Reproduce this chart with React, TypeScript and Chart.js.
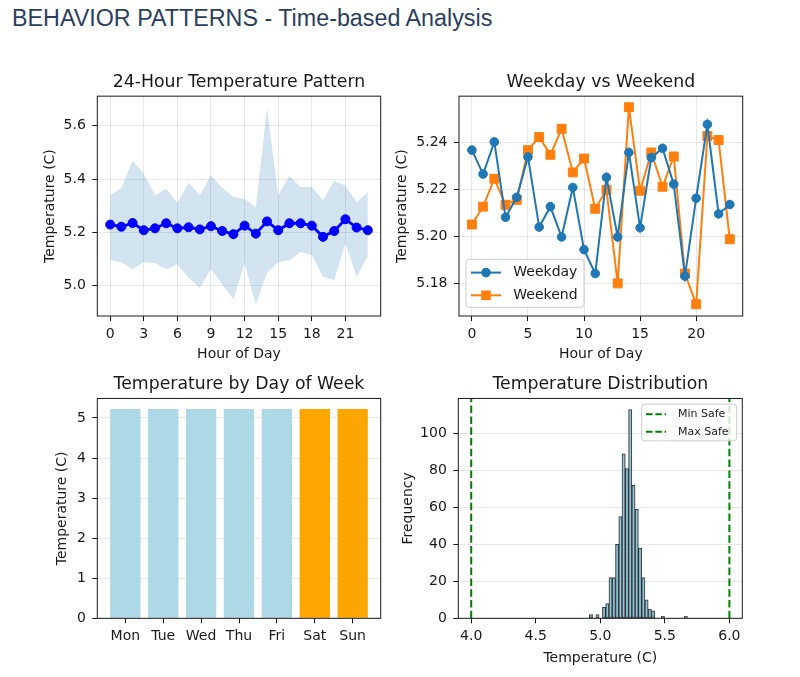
import { useEffect, useRef } from 'react';
import { Chart, registerables } from 'chart.js';

Chart.register(...registerables);
Chart.defaults.font.family = "'DejaVu Sans', sans-serif";
Chart.defaults.color = '#1a1a1a';

const INK = '#1a1a1a';
const GRID = 'rgba(176,176,176,0.3)';

// 24-hour pattern: mean with +/- std band
const hours = [0, 1, 2, 3, 4, 5, 6, 7, 8, 9, 10, 11, 12, 13, 14, 15, 16, 17, 18, 19, 20, 21, 22, 23];
const hourMean = [5.229, 5.221, 5.235, 5.208, 5.215, 5.234, 5.215, 5.219, 5.211, 5.223, 5.205, 5.193, 5.225, 5.195, 5.241, 5.208, 5.234, 5.234, 5.225, 5.183, 5.205, 5.249, 5.218, 5.208];
const hourUpper = [5.339, 5.366, 5.47, 5.42, 5.339, 5.364, 5.31, 5.386, 5.339, 5.414, 5.366, 5.333, 5.326, 5.294, 5.666, 5.339, 5.411, 5.37, 5.37, 5.32, 5.393, 5.376, 5.314, 5.351];
const hourLower = [5.095, 5.089, 5.061, 5.089, 5.085, 5.061, 5.08, 5.03, 4.991, 5.061, 5.005, 4.949, 5.083, 4.929, 5.048, 5.089, 5.095, 5.126, 5.114, 5.033, 5.02, 5.16, 5.033, 5.11];
const hourTicks = [0, 3, 6, 9, 12, 15, 18, 21];
const hourTempTicks = [5.0, 5.2, 5.4, 5.6];

// weekday vs weekend by hour
const weekdayTemps = [5.2368, 5.2266, 5.2403, 5.2082, 5.2167, 5.2339, 5.204, 5.2127, 5.1998, 5.2209, 5.1944, 5.1842, 5.2252, 5.1998, 5.2358, 5.2037, 5.2336, 5.2376, 5.2223, 5.1831, 5.2163, 5.2478, 5.2096, 5.2136];
const weekendTemps = [5.2051, 5.2127, 5.2246, 5.2135, 5.2156, 5.2368, 5.2424, 5.2348, 5.2459, 5.2273, 5.2332, 5.2118, 5.2199, 5.18, 5.2551, 5.2195, 5.2358, 5.2212, 5.2341, 5.1842, 5.1711, 5.2428, 5.2411, 5.1988];
const splitHourTicks = [0, 5, 10, 15, 20];
const splitTempTicks = [5.18, 5.2, 5.22, 5.24];

// day of week
const dayLabels = ['Mon', 'Tue', 'Wed', 'Thu', 'Fri', 'Sat', 'Sun'];
const dayTemps = [5.225, 5.224, 5.226, 5.224, 5.225, 5.222, 5.223];
const weekendDays = ['Sat', 'Sun'];
const dayTempTicks = [0, 1, 2, 3, 4, 5];

// distribution
const histBinStart = 4.915;
const histBinWidth = 0.02533;
const histCounts = [2, 0, 2, 0, 6, 8, 22, 22, 40, 55, 89, 81, 113, 72, 59, 38, 22, 10, 5, 4, 0, 0, 1, 0, 0, 0, 0, 0, 0, 1];
const minSafe = 4.0;
const maxSafe = 6.0;
const histTempTicks = [4.0, 4.5, 5.0, 5.5, 6.0];
const histFreqTicks = [0, 20, 40, 60, 80, 100];

type AxisSpec = {
  min: number;
  max: number;
  ticks: number[];
  fmt: (v: number) => string;
  size: number;
  grid: boolean;
  title?: string;
  titlePad?: number;
};

function axis(pos: 'x' | 'y', s: AxisSpec) {
  const horiz = pos === 'x';
  return {
    type: 'linear',
    position: horiz ? 'bottom' : 'left',
    min: s.min,
    max: s.max,
    offset: false,
    afterBuildTicks: (sc: any) => {
      sc.ticks = s.ticks.map((value) => ({ value }));
    },
    afterFit: (sc: any) => {
      if (horiz) sc.height = s.size;
      else sc.width = s.size;
    },
    ticks: {
      callback: (v: any) => s.fmt(Number(v)),
      font: { size: 14 },
      color: INK,
      padding: horiz ? 4.5 : 6.5,
      autoSkip: false,
      maxRotation: 0,
    },
    grid: {
      display: true,
      offset: false,
      color: s.grid ? GRID : 'rgba(0,0,0,0)',
      lineWidth: 1,
      drawTicks: true,
      tickLength: 5,
      tickColor: INK,
      tickWidth: 1,
    },
    border: { display: false },
    title: s.title
      ? {
          display: true,
          text: s.title,
          font: { size: 14 },
          color: INK,
          padding: horiz ? { top: 0, bottom: s.titlePad } : { top: s.titlePad, bottom: 0 },
        }
      : { display: false },
  };
}

function baseOptions(title: string, pad: { top: number; bottom: number }, padRight: number, scales: any) {
  return {
    responsive: true,
    maintainAspectRatio: false,
    animation: false,
    events: [],
    layout: { padding: { left: 0, top: 0, bottom: 0, right: padRight } },
    plugins: {
      legend: { display: false },
      tooltip: { enabled: false },
      title: {
        display: true,
        fullSize: false,
        text: title,
        font: { size: 17.3, weight: 'normal' },
        color: INK,
        padding: pad,
      },
    },
    scales,
  };
}

// axes box drawn on all four sides like matplotlib spines
const framePlugin = {
  id: 'frame',
  afterDatasetsDraw(chart: Chart) {
    const { ctx, chartArea: a } = chart;
    ctx.save();
    ctx.strokeStyle = INK;
    ctx.lineWidth = 1;
    ctx.strokeRect(a.left, a.top, a.right - a.left, a.bottom - a.top);
    ctx.restore();
  },
};

type LegendItem = { label: string; color: string; width: number; marker?: 'circle' | 'square'; dash?: number[] };
type LegendBox = {
  corner: 'lowerLeft' | 'upperRight';
  dx: number;
  dy: number;
  w: number;
  h: number;
  rows: number[];
  line: [number, number];
  text: number;
  fontSize: number;
};

function legendPlugin(items: LegendItem[], L: LegendBox) {
  return {
    id: 'mplLegend',
    afterDraw(chart: Chart) {
      const { ctx, chartArea: a } = chart;
      const x0 = L.corner === 'lowerLeft' ? a.left + L.dx : a.right - L.dx - L.w;
      const y0 = L.corner === 'lowerLeft' ? a.bottom - L.dy - L.h : a.top + L.dy;
      ctx.save();
      ctx.beginPath();
      if ((ctx as any).roundRect) (ctx as any).roundRect(x0, y0, L.w, L.h, 3);
      else ctx.rect(x0, y0, L.w, L.h);
      ctx.fillStyle = 'rgba(255,255,255,0.8)';
      ctx.fill();
      ctx.strokeStyle = '#cccccc';
      ctx.lineWidth = 1;
      ctx.stroke();
      items.forEach((it, i) => {
        const y = y0 + L.rows[i];
        ctx.beginPath();
        ctx.setLineDash(it.dash ?? []);
        ctx.strokeStyle = it.color;
        ctx.lineWidth = it.width;
        ctx.moveTo(x0 + L.line[0], y);
        ctx.lineTo(x0 + L.line[1], y);
        ctx.stroke();
        ctx.setLineDash([]);
        const mx = x0 + (L.line[0] + L.line[1]) / 2;
        ctx.fillStyle = it.color;
        if (it.marker === 'circle') {
          ctx.beginPath();
          ctx.arc(mx, y, 4.8, 0, Math.PI * 2);
          ctx.fill();
        } else if (it.marker === 'square') {
          ctx.fillRect(mx - 4.8, y - 4.8, 9.6, 9.6);
        }
        ctx.fillStyle = INK;
        ctx.font = `${L.fontSize}px 'DejaVu Sans', sans-serif`;
        ctx.textBaseline = 'middle';
        ctx.textAlign = 'left';
        ctx.fillText(it.label, x0 + L.text, y);
      });
      ctx.restore();
    },
  };
}

const TOP_TITLE = { top: 14.6, bottom: 2.8 };
const BOTTOM_TITLE = { top: 9.6, bottom: 3.1 };

function hourlyConfig(): any {
  return {
    type: 'line',
    data: {
      datasets: [
        {
          data: hours.map((h, i) => ({ x: h, y: hourMean[i] })),
          borderColor: '#0000ff',
          backgroundColor: '#0000ff',
          borderWidth: 2.8,
          pointRadius: 4.5,
          pointBorderWidth: 1,
          pointBorderColor: '#0000ff',
          pointBackgroundColor: '#0000ff',
          tension: 0,
          fill: false,
        },
        {
          data: hours.map((h, i) => ({ x: h, y: hourUpper[i] })),
          borderWidth: 0,
          borderColor: 'rgba(0,0,0,0)',
          pointRadius: 0,
          backgroundColor: 'rgba(31,119,180,0.2)',
          fill: '+1',
          tension: 0,
        },
        {
          data: hours.map((h, i) => ({ x: h, y: hourLower[i] })),
          borderWidth: 0,
          borderColor: 'rgba(0,0,0,0)',
          pointRadius: 0,
          fill: false,
          tension: 0,
        },
      ],
    },
    options: baseOptions('24-Hour Temperature Pattern', TOP_TITLE, 9.3, {
      x: axis('x', { min: -1.15, max: 24.15, ticks: hourTicks, fmt: (v) => String(v), size: 49, grid: true, title: 'Hour of Day', titlePad: 2.6 }),
      y: axis('y', { min: 4.886, max: 5.711, ticks: hourTempTicks, fmt: (v) => v.toFixed(1), size: 77.3, grid: true, title: 'Temperature (C)', titlePad: 21.6 }),
    }),
    plugins: [framePlugin],
  };
}

function splitConfig(): any {
  return {
    type: 'line',
    data: {
      datasets: [
        {
          label: 'Weekday',
          data: hours.map((h, i) => ({ x: h, y: weekdayTemps[i] })),
          borderColor: '#1f77b4',
          backgroundColor: '#1f77b4',
          borderWidth: 2,
          pointStyle: 'circle',
          pointRadius: 4.3,
          pointBorderWidth: 1,
          tension: 0,
        },
        {
          label: 'Weekend',
          data: hours.map((h, i) => ({ x: h, y: weekendTemps[i] })),
          borderColor: '#ff7f0e',
          backgroundColor: '#ff7f0e',
          borderWidth: 2,
          pointStyle: 'rect',
          pointRadius: 6.3,
          pointBorderWidth: 1,
          tension: 0,
        },
      ],
    },
    options: baseOptions('Weekday vs Weekend', TOP_TITLE, 9.3, {
      x: axis('x', { min: -1.15, max: 24.15, ticks: splitHourTicks, fmt: (v) => String(v), size: 49, grid: true, title: 'Hour of Day', titlePad: 2.6 }),
      y: axis('y', { min: 5.1661, max: 5.2598, ticks: splitTempTicks, fmt: (v) => v.toFixed(2), size: 77, grid: true, title: 'Temperature (C)', titlePad: 12.3 }),
    }),
    plugins: [
      framePlugin,
      legendPlugin(
        [
          { label: 'Weekday', color: '#1f77b4', width: 2, marker: 'circle' },
          { label: 'Weekend', color: '#ff7f0e', width: 2, marker: 'square' },
        ],
        { corner: 'lowerLeft', dx: 7, dy: 8.7, w: 118, h: 48, rows: [13.3, 36], line: [5, 35], text: 47.3, fontSize: 14 },
      ),
    ],
  };
}

function dayConfig(): any {
  return {
    type: 'bar',
    data: {
      datasets: [
        {
          data: dayLabels.map((_, i) => ({ x: i, y: dayTemps[i] })),
          backgroundColor: dayLabels.map((d) => (weekendDays.includes(d) ? '#ffa500' : '#add8e6')),
          borderWidth: 0,
          categoryPercentage: 0.8,
          barPercentage: 1,
        },
      ],
    },
    options: baseOptions('Temperature by Day of Week', BOTTOM_TITLE, 9.3, {
      x: axis('x', { min: -0.74, max: 6.74, ticks: dayLabels.map((_, i) => i), fmt: (v) => dayLabels[v] ?? '', size: 58.7, grid: false }),
      y: axis('y', { min: 0, max: 5.486, ticks: dayTempTicks, fmt: (v) => v.toFixed(0), size: 77.3, grid: true, title: 'Temperature (C)', titlePad: 34.3 }),
    }),
    plugins: [framePlugin],
  };
}

function histConfig(): any {
  const yTop = 119;
  return {
    type: 'bar',
    data: {
      datasets: [
        {
          type: 'line',
          data: [
            { x: minSafe, y: 0 },
            { x: minSafe, y: yTop },
          ],
          borderColor: '#008000',
          borderWidth: 2,
          borderDash: [7.5, 3.3],
          pointRadius: 0,
          fill: false,
        },
        {
          type: 'line',
          data: [
            { x: maxSafe, y: 0 },
            { x: maxSafe, y: yTop },
          ],
          borderColor: '#008000',
          borderWidth: 2,
          borderDash: [7.5, 3.3],
          pointRadius: 0,
          fill: false,
        },
        {
          type: 'bar',
          data: histCounts.map((c, i) => ({ x: histBinStart + (i + 0.5) * histBinWidth, y: c })),
          backgroundColor: 'rgba(135,206,235,0.7)',
          borderColor: 'rgba(0,0,0,0.75)',
          borderWidth: 1,
          borderSkipped: false,
          categoryPercentage: 1,
          barPercentage: 1,
        },
      ],
    },
    options: baseOptions('Temperature Distribution', BOTTOM_TITLE, 9.7, {
      x: axis('x', { min: 3.9, max: 6.1, ticks: histTempTicks, fmt: (v) => v.toFixed(1), size: 58.7, grid: false, title: 'Temperature (C)', titlePad: 10.6 }),
      y: axis('y', { min: 0, max: yTop, ticks: histFreqTicks, fmt: (v) => v.toFixed(0), size: 76.3, grid: true, title: 'Frequency', titlePad: 17.9 }),
    }),
    plugins: [
      framePlugin,
      legendPlugin(
        [
          { label: 'Min Safe', color: '#008000', width: 2, dash: [6.5, 2.8] },
          { label: 'Max Safe', color: '#008000', width: 2, dash: [6.5, 2.8] },
        ],
        { corner: 'upperRight', dx: 5.6, dy: 5.7, w: 95, h: 36.7, rows: [10, 27.7], line: [4.3, 24.3], text: 36.3, fontSize: 11 },
      ),
    ],
  };
}

function Panel({ left, top, width, height, config }: { left: number; top: number; width: number; height: number; config: () => any }) {
  const canvasRef = useRef<HTMLCanvasElement>(null);

  useEffect(() => {
    if (!canvasRef.current) return;
    const chart = new Chart(canvasRef.current, config());
    return () => chart.destroy();
  }, [config]);

  return (
    <div style={{ position: 'absolute', left, top, width, height }}>
      <canvas ref={canvasRef}></canvas>
    </div>
  );
}

export default function App() {
  return (
    <div style={{ position: 'absolute', left: 0, top: 0, width: 800, height: 677, background: '#fff', overflow: 'hidden' }}>
      <div
        style={{
          position: 'absolute',
          left: 12,
          top: 6.5,
          fontFamily: "'Liberation Sans', Arial, sans-serif",
          fontSize: 23.3,
          lineHeight: '23px',
          color: '#2a3f5f',
          whiteSpace: 'nowrap',
        }}
      >
        BEHAVIOR PATTERNS - Time-based Analysis
      </div>
      <Panel left={20} top={58} width={370} height={307} config={hourlyConfig} />
      <Panel left={382} top={58} width={370} height={307} config={splitConfig} />
      <Panel left={20} top={365} width={370} height={312} config={dayConfig} />
      <Panel left={382} top={365} width={370} height={312} config={histConfig} />
    </div>
  );
}
